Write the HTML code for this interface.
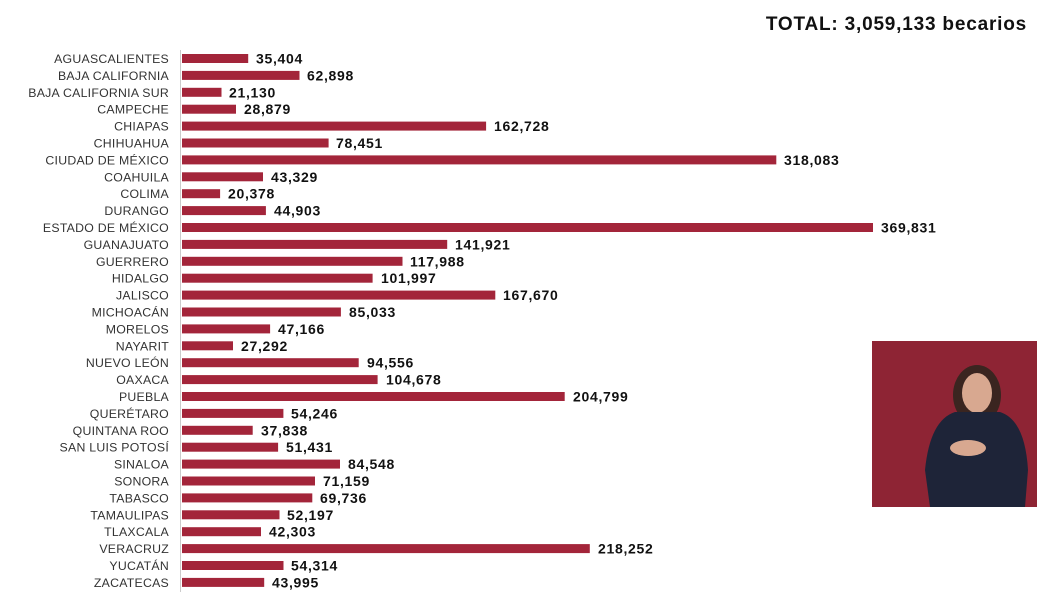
<!DOCTYPE html>
<html><head><meta charset="utf-8"><style>
html,body{margin:0;padding:0;background:#fff;width:1037px;height:607px;overflow:hidden}
svg{display:block}
.l{font-family:"Liberation Sans",sans-serif;font-size:12.3px;letter-spacing:0.25px;fill:#333;text-anchor:end}
.v{font-family:"Liberation Sans",sans-serif;font-size:14px;letter-spacing:0.7px;font-weight:bold;fill:#111}
rect.b{fill:#a3253a}
</style></head><body>
<svg width="1037" height="607" viewBox="0 0 1037 607">
<rect width="1037" height="607" fill="#fff"/>
<text x="1027" y="30" font-family="Liberation Sans,sans-serif" font-size="19" letter-spacing="0.8" font-weight="bold" text-anchor="end" fill="#111">TOTAL: 3,059,133 becarios</text>
<line x1="180.5" y1="50" x2="180.5" y2="592" stroke="#ccc" stroke-width="1"/>
<g transform="translate(0,58.5)"><text class="l" x="169" y="4.5">AGUASCALIENTES</text><rect class="b" x="182" y="-4.5" width="66.2" height="9"/><text class="v" x="256" y="5">35,404</text></g>
<g transform="translate(0,75.4)"><text class="l" x="169" y="4.5">BAJA CALIFORNIA</text><rect class="b" x="182" y="-4.5" width="117.5" height="9"/><text class="v" x="307" y="5">62,898</text></g>
<g transform="translate(0,92.3)"><text class="l" x="169" y="4.5">BAJA CALIFORNIA SUR</text><rect class="b" x="182" y="-4.5" width="39.5" height="9"/><text class="v" x="229" y="5">21,130</text></g>
<g transform="translate(0,109.2)"><text class="l" x="169" y="4.5">CAMPECHE</text><rect class="b" x="182" y="-4.5" width="54" height="9"/><text class="v" x="244" y="5">28,879</text></g>
<g transform="translate(0,126.1)"><text class="l" x="169" y="4.5">CHIAPAS</text><rect class="b" x="182" y="-4.5" width="304.1" height="9"/><text class="v" x="494" y="5">162,728</text></g>
<g transform="translate(0,143)"><text class="l" x="169" y="4.5">CHIHUAHUA</text><rect class="b" x="182" y="-4.5" width="146.6" height="9"/><text class="v" x="336" y="5">78,451</text></g>
<g transform="translate(0,159.9)"><text class="l" x="169" y="4.5">CIUDAD DE MÉXICO</text><rect class="b" x="182" y="-4.5" width="594.3" height="9"/><text class="v" x="784" y="5">318,083</text></g>
<g transform="translate(0,176.8)"><text class="l" x="169" y="4.5">COAHUILA</text><rect class="b" x="182" y="-4.5" width="81" height="9"/><text class="v" x="271" y="5">43,329</text></g>
<g transform="translate(0,193.7)"><text class="l" x="169" y="4.5">COLIMA</text><rect class="b" x="182" y="-4.5" width="38.1" height="9"/><text class="v" x="228" y="5">20,378</text></g>
<g transform="translate(0,210.6)"><text class="l" x="169" y="4.5">DURANGO</text><rect class="b" x="182" y="-4.5" width="83.9" height="9"/><text class="v" x="274" y="5">44,903</text></g>
<g transform="translate(0,227.5)"><text class="l" x="169" y="4.5">ESTADO DE MÉXICO</text><rect class="b" x="182" y="-4.5" width="691" height="9"/><text class="v" x="881" y="5">369,831</text></g>
<g transform="translate(0,244.4)"><text class="l" x="169" y="4.5">GUANAJUATO</text><rect class="b" x="182" y="-4.5" width="265.2" height="9"/><text class="v" x="455" y="5">141,921</text></g>
<g transform="translate(0,261.3)"><text class="l" x="169" y="4.5">GUERRERO</text><rect class="b" x="182" y="-4.5" width="220.5" height="9"/><text class="v" x="410" y="5">117,988</text></g>
<g transform="translate(0,278.2)"><text class="l" x="169" y="4.5">HIDALGO</text><rect class="b" x="182" y="-4.5" width="190.6" height="9"/><text class="v" x="381" y="5">101,997</text></g>
<g transform="translate(0,295.1)"><text class="l" x="169" y="4.5">JALISCO</text><rect class="b" x="182" y="-4.5" width="313.3" height="9"/><text class="v" x="503" y="5">167,670</text></g>
<g transform="translate(0,312)"><text class="l" x="169" y="4.5">MICHOACÁN</text><rect class="b" x="182" y="-4.5" width="158.9" height="9"/><text class="v" x="349" y="5">85,033</text></g>
<g transform="translate(0,328.9)"><text class="l" x="169" y="4.5">MORELOS</text><rect class="b" x="182" y="-4.5" width="88.1" height="9"/><text class="v" x="278" y="5">47,166</text></g>
<g transform="translate(0,345.8)"><text class="l" x="169" y="4.5">NAYARIT</text><rect class="b" x="182" y="-4.5" width="51" height="9"/><text class="v" x="241" y="5">27,292</text></g>
<g transform="translate(0,362.7)"><text class="l" x="169" y="4.5">NUEVO LEÓN</text><rect class="b" x="182" y="-4.5" width="176.7" height="9"/><text class="v" x="367" y="5">94,556</text></g>
<g transform="translate(0,379.6)"><text class="l" x="169" y="4.5">OAXACA</text><rect class="b" x="182" y="-4.5" width="195.6" height="9"/><text class="v" x="386" y="5">104,678</text></g>
<g transform="translate(0,396.5)"><text class="l" x="169" y="4.5">PUEBLA</text><rect class="b" x="182" y="-4.5" width="382.7" height="9"/><text class="v" x="573" y="5">204,799</text></g>
<g transform="translate(0,413.4)"><text class="l" x="169" y="4.5">QUERÉTARO</text><rect class="b" x="182" y="-4.5" width="101.4" height="9"/><text class="v" x="291" y="5">54,246</text></g>
<g transform="translate(0,430.3)"><text class="l" x="169" y="4.5">QUINTANA ROO</text><rect class="b" x="182" y="-4.5" width="70.7" height="9"/><text class="v" x="261" y="5">37,838</text></g>
<g transform="translate(0,447.2)"><text class="l" x="169" y="4.5">SAN LUIS POTOSÍ</text><rect class="b" x="182" y="-4.5" width="96.1" height="9"/><text class="v" x="286" y="5">51,431</text></g>
<g transform="translate(0,464.1)"><text class="l" x="169" y="4.5">SINALOA</text><rect class="b" x="182" y="-4.5" width="158" height="9"/><text class="v" x="348" y="5">84,548</text></g>
<g transform="translate(0,481)"><text class="l" x="169" y="4.5">SONORA</text><rect class="b" x="182" y="-4.5" width="133" height="9"/><text class="v" x="323" y="5">71,159</text></g>
<g transform="translate(0,497.9)"><text class="l" x="169" y="4.5">TABASCO</text><rect class="b" x="182" y="-4.5" width="130.3" height="9"/><text class="v" x="320" y="5">69,736</text></g>
<g transform="translate(0,514.8)"><text class="l" x="169" y="4.5">TAMAULIPAS</text><rect class="b" x="182" y="-4.5" width="97.5" height="9"/><text class="v" x="287" y="5">52,197</text></g>
<g transform="translate(0,531.7)"><text class="l" x="169" y="4.5">TLAXCALA</text><rect class="b" x="182" y="-4.5" width="79" height="9"/><text class="v" x="269" y="5">42,303</text></g>
<g transform="translate(0,548.6)"><text class="l" x="169" y="4.5">VERACRUZ</text><rect class="b" x="182" y="-4.5" width="407.8" height="9"/><text class="v" x="598" y="5">218,252</text></g>
<g transform="translate(0,565.5)"><text class="l" x="169" y="4.5">YUCATÁN</text><rect class="b" x="182" y="-4.5" width="101.5" height="9"/><text class="v" x="291" y="5">54,314</text></g>
<g transform="translate(0,582.4)"><text class="l" x="169" y="4.5">ZACATECAS</text><rect class="b" x="182" y="-4.5" width="82.2" height="9"/><text class="v" x="272" y="5">43,995</text></g>
<rect x="872" y="341" width="165" height="166" fill="#8e2434"/>
<ellipse cx="977" cy="395" rx="24" ry="30" fill="#3a2520"/>
<ellipse cx="977" cy="393" rx="15" ry="20" fill="#d8a890"/>
<path d="M925 470 Q930 420 955 412 L1000 412 Q1025 420 1028 470 L1025 507 L930 507 Z" fill="#1e2438"/>
<ellipse cx="968" cy="448" rx="18" ry="8" fill="#d8a890"/>
</svg>
</body></html>
